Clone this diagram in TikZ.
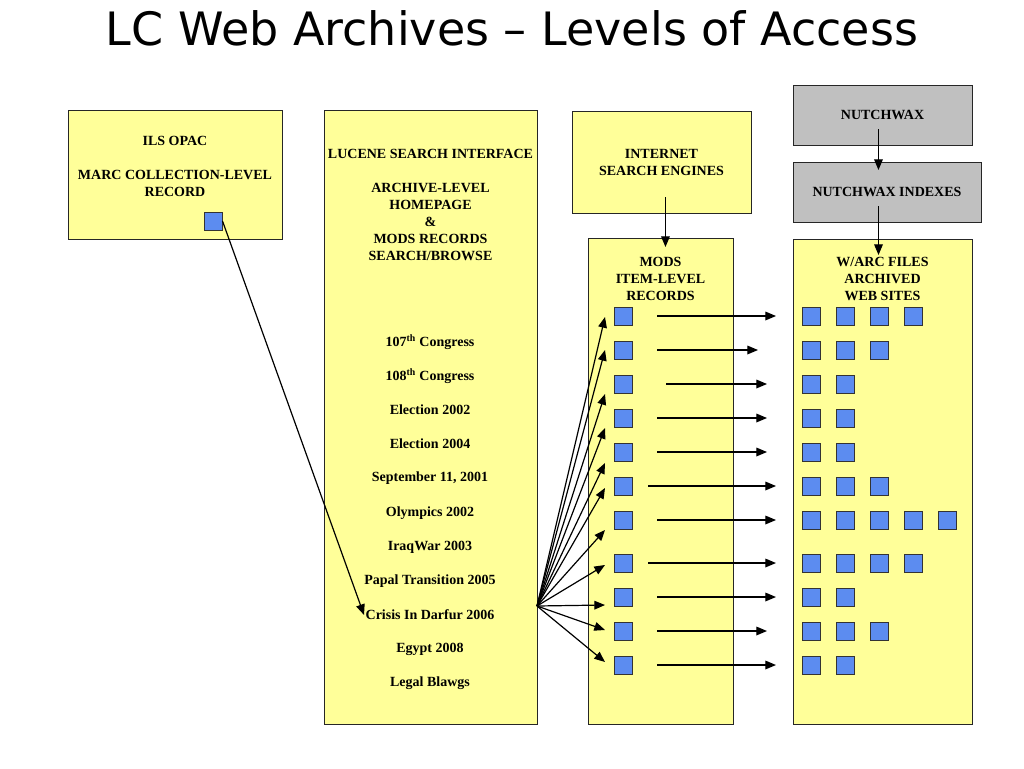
\documentclass[tikz,border=0pt]{standalone}
\usepackage{fontspec}
\setmainfont{Liberation Serif}
\newfontfamily\titlefont{DejaVu Sans}
\usetikzlibrary{arrows.meta}
\definecolor{boxyellow}{RGB}{255,255,153}
\definecolor{boxgray}{RGB}{192,192,192}
\definecolor{sqblue}{RGB}{92,140,240}
\begin{document}
\begin{tikzpicture}[x=0.75pt,y=-0.75pt,
  ybox/.style={draw=black!85, fill=boxyellow, line width=0.75pt, anchor=north west, inner sep=0pt},
  gbox/.style={ybox, fill=boxgray},
  lbl/.style={font=\fontsize{10.5}{12.75}\selectfont\bfseries, align=center, inner sep=1pt},
  sq/.style={draw=black!80, fill=sqblue, minimum size=13.5pt, inner sep=0pt, line width=0.75pt},
  arr/.style={-{Triangle[length=8pt,width=6.5pt]}, line width=0.9pt}]
\useasboundingbox (0,0) rectangle (1024,768);
\fill[white] (0,0) rectangle (1024,768);

\node[font=\titlefont\fontsize{34.5}{40}\selectfont, inner sep=0pt] (title) at (512,28) {LC Web Archives – Levels of Access};

% boxes
\node[ybox, minimum width=160.5pt, minimum height=96.75pt] (ils) at (68,110) {};
\node[ybox, minimum width=159.75pt, minimum height=460.5pt] (lucene) at (324,110) {};
\node[ybox, minimum width=134.25pt, minimum height=76.5pt] (inet) at (572,111) {};
\node[ybox, minimum width=108.75pt, minimum height=364.5pt] (mods) at (588,238) {};
\node[gbox, minimum width=134.25pt, minimum height=45pt] (nutch) at (793,85) {};
\node[gbox, minimum width=141pt, minimum height=45pt] (nidx) at (793,162) {};
\node[ybox, minimum width=134.25pt, minimum height=363.75pt] (warc) at (793,239) {};

% box texts
\node[lbl] (ilstxt) at (175,166.5) {ILS OPAC\\[12.75pt]MARC COLLECTION-LEVEL\\RECORD};
\node[lbl] (lucenetxt) at (430.5,205) {LUCENE SEARCH INTERFACE\\[12.75pt]ARCHIVE-LEVEL\\HOMEPAGE\\\&\\MODS RECORDS\\SEARCH/BROWSE};
\node[lbl] (inettxt) at (661.5,162.5) {INTERNET\\SEARCH ENGINES};
\node[lbl] (modstxt) at (660.5,279) {MODS\\ITEM-LEVEL\\RECORDS};
\node[lbl] (warctxt) at (882.5,279) {W/ARC FILES\\ARCHIVED\\WEB SITES};
\node[lbl] (nutchtxt) at (882.5,115) {NUTCHWAX};
\node[lbl] (nidxtxt) at (887,192) {NUTCHWAX INDEXES};

% collection items
\node[lbl] (c1) at (430,342) {107\textsuperscript{th} Congress};
\node[lbl] (c2) at (430,376) {108\textsuperscript{th} Congress};
\node[lbl] (c3) at (430,410) {Election 2002};
\node[lbl] (c4) at (430,444) {Election 2004};
\node[lbl] (c5) at (430,478) {September 11, 2001};
\node[lbl] (c6) at (430,513) {Olympics 2002};
\node[lbl] (c7) at (430,547) {IraqWar 2003};
\node[lbl] (c8) at (430,581) {Papal Transition 2005};
\node[lbl] (c9) at (430,615) {Crisis In Darfur 2006};
\node[lbl] (c10) at (430,649) {Egypt 2008};
\node[lbl] (c11) at (430,683) {Legal Blawgs};

% ILS record square and link
\node[sq] (ilssq) at (213,221) {};
\draw[arr] (ilssq.east) -- (c9.west);

% vertical arrows
\draw[arr, shorten <=-12.75pt, shorten >=-6.75pt] ([xshift=2.6pt]inet.south) -- ([xshift=2.6pt]inet.south |- mods.north);
\draw[arr, shorten <=-12.75pt, shorten >=-6pt] ([xshift=-3.4pt]nutch.south) -- ([xshift=-3.4pt]nutch.south |- nidx.north);
\draw[arr, shorten <=-12.75pt, shorten >=-12pt] ([xshift=-6.75pt]nidx.south) -- ([xshift=-6.75pt]nidx.south |- warc.north);

% fan origin
\coordinate (fan) at (537,606);

\foreach \i/\y/\t/\hs/\he/\n in {1/316/317/657/776/4, 2/350/350/657/758/3, 3/384/394/666/767/2, 4/418/428/657/767/2, 5/452/463/657/767/2, 6/486/488/648/776/3, 7/520/530/657/776/5, 8/563/565/648/776/4, 9/597/605/657/776/2, 10/631/630/657/767/3, 11/665/662/657/776/2}{
  \node[sq] (m\i) at (623,\y) {};
  \coordinate (t\i) at (605,\t);
  \draw[arr] (fan) -- (t\i);
  \coordinate (hs\i) at (\hs,\y);
  \coordinate (he\i) at (\he,\y);
  \draw[arr] (hs\i) -- (he\i);
  \foreach \k in {1,...,\n}{
    \node[sq] (w\i-\k) at ({811+34*(\k-1)},\y) {};
  }
}
\end{tikzpicture}
\end{document}
